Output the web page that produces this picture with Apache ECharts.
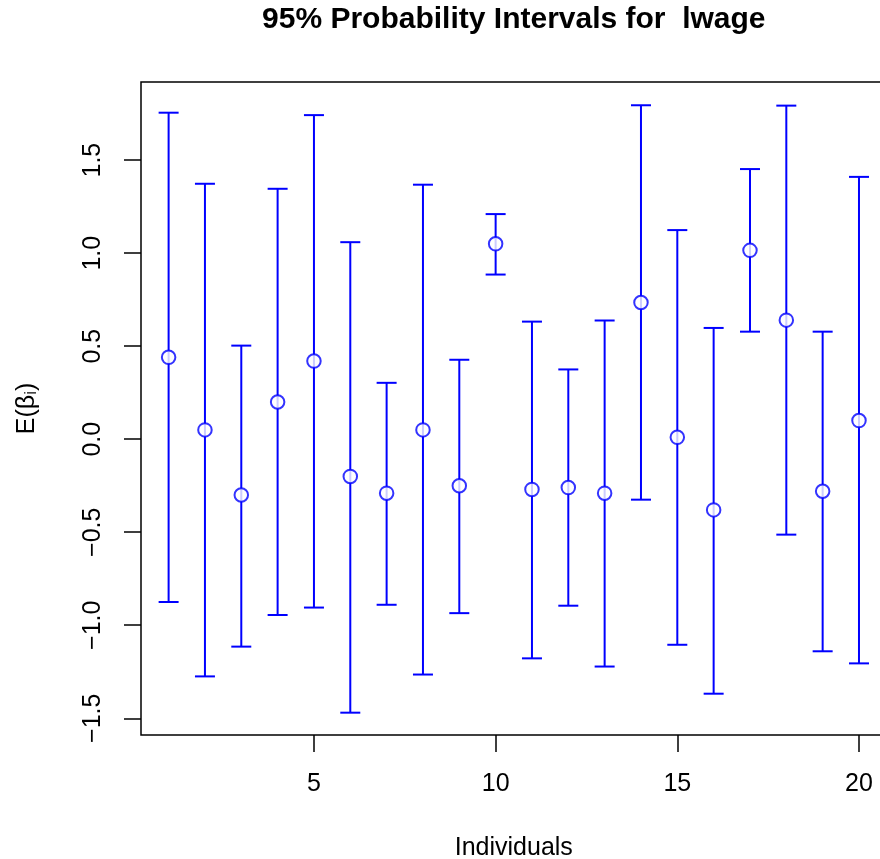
<!DOCTYPE html>
<html>
<head>
<meta charset="utf-8">
<script src="https://cdn.jsdelivr.net/npm/echarts@6/dist/echarts.min.js"></script>
<style>html,body{margin:0;padding:0;background:#fff}#c{width:880px;height:859px}</style>
</head>
<body>
<div id="c"></div>
<script>
const individuals = [1,2,3,4,5,6,7,8,9,10,11,12,13,14,15,16,17,18,19,20];
const means = [0.44,0.05,-0.30,0.20,0.42,-0.20,-0.29,0.05,-0.25,1.05,-0.27,-0.26,-0.29,0.735,0.01,-0.38,1.015,0.64,-0.28,0.10];
const lower = [-0.875,-1.275,-1.115,-0.945,-0.905,-1.47,-0.89,-1.265,-0.935,0.885,-1.178,-0.895,-1.222,-0.325,-1.105,-1.368,0.578,-0.513,-1.14,-1.205];
const upper = [1.755,1.373,0.503,1.346,1.742,1.059,0.303,1.368,0.427,1.21,0.632,0.375,0.638,1.795,1.124,0.598,1.452,1.793,0.578,1.41];
const xTicks = [5,10,15,20];
const yTicks = [-1.5,-1.0,-0.5,0.0,0.5,1.0,1.5];

const intervalData = individuals.map((x,i)=>[x, lower[i], upper[i]]);
const pointData = individuals.map((x,i)=>[x, means[i]]);

const blue = '#0000ff';
const fontFam = '"Liberation Sans", Arial, Helvetica, sans-serif';

const chart = echarts.init(document.getElementById('c'), null, {renderer:'canvas'});
chart.setOption({
  backgroundColor:'#ffffff',
  animation:false,
  title:{
    text:'95% Probability Intervals for  lwage',
    left:513.8, top:5, textAlign:'center', padding:0,
    textStyle:{fontFamily:fontFam, fontWeight:'bold', fontSize:30, color:'#000'}
  },
  grid:{left:141, top:82, width:745.6, height:653, show:true, borderColor:'#000', borderWidth:1.5, backgroundColor:'transparent', containLabel:false, outerBoundsMode:'none'},
  xAxis:{
    type:'value', min:0.24, max:20.76,
    name:'Individuals', nameLocation:'middle', nameGap:101,
    nameTextStyle:{fontFamily:fontFam, fontSize:25, color:'#000', verticalAlign:'top'},
    axisLine:{show:false, onZero:false},
    axisTick:{show:true, inside:false, length:17, lineStyle:{color:'#000', width:1.5}, customValues:xTicks},
    axisLabel:{show:true, margin:37, fontFamily:fontFam, fontSize:25, color:'#000', customValues:xTicks, formatter:v=>String(v)},
    splitLine:{show:false}
  },
  yAxis:{
    type:'value', min:-1.59, max:1.92,
    name:'{n|E(β}{s|i}{n|)}', nameLocation:'middle', nameGap:101, nameRotate:90,
    nameTextStyle:{fontFamily:fontFam, fontSize:25, color:'#000', verticalAlign:'bottom',
      rich:{n:{fontFamily:fontFam, fontSize:25, color:'#000'}, s:{fontFamily:fontFam, fontSize:17, color:'#000', verticalAlign:'bottom', padding:[8,0,0,0]}}},
    axisLine:{show:false, onZero:false},
    axisTick:{show:true, inside:false, length:17, lineStyle:{color:'#000', width:1.5}, customValues:yTicks},
    axisLabel:{show:true, margin:35, rotate:90, fontFamily:fontFam, fontSize:25, color:'#000', customValues:yTicks,
      formatter:v=>(v<0?'\u2212':'')+Math.abs(v).toFixed(1)},
    splitLine:{show:false}
  },
  series:[
    {
      type:'custom',
      data:intervalData,
      encode:{x:0, y:[1,2]},
      clip:false,
      renderItem:function(params, api){
        const x = api.value(0);
        const lo = api.coord([x, api.value(1)]);
        const hi = api.coord([x, api.value(2)]);
        const cap = 10;
        const style = {stroke:blue, lineWidth:2, fill:null};
        return {type:'group', children:[
          {type:'line', shape:{x1:lo[0], y1:lo[1], x2:hi[0], y2:hi[1]}, style:style},
          {type:'line', shape:{x1:hi[0]-cap, y1:hi[1], x2:hi[0]+cap, y2:hi[1]}, style:style},
          {type:'line', shape:{x1:lo[0]-cap, y1:lo[1], x2:lo[0]+cap, y2:lo[1]}, style:style}
        ]};
      },
      z:2
    },
    {
      type:'scatter',
      data:pointData,
      symbol:'circle',
      symbolSize:13.5,
      itemStyle:{color:'#ffffff', borderColor:blue, borderWidth:2},
      z:3
    }
  ]
});
</script>
</body>
</html>
